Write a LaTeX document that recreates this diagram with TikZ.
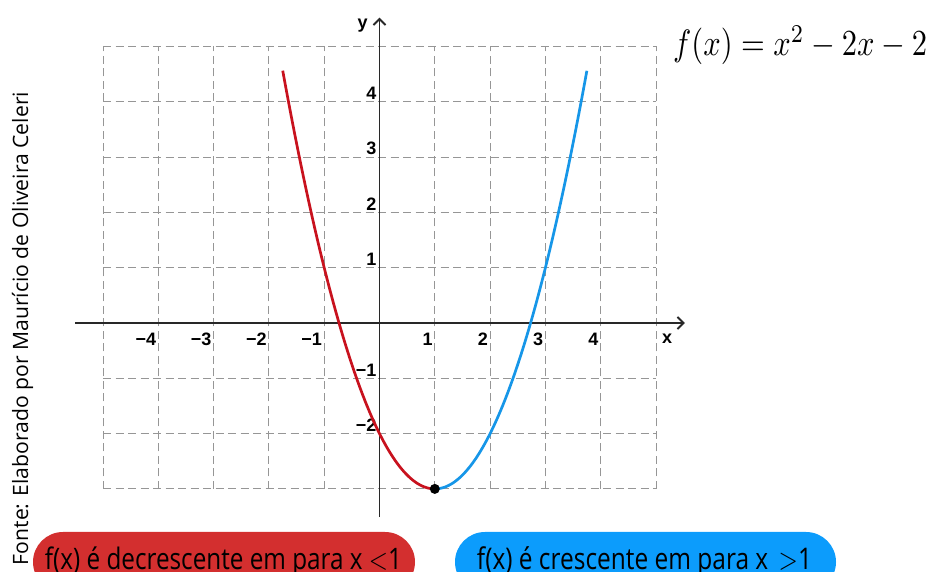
\documentclass[tikz,border=0pt]{standalone}
\usepackage{fontspec}
\usepackage{graphicx}
\usetikzlibrary{arrows.meta}
\newfontfamily\osans{Open Sans}
\newfontfamily\lsans{Liberation Sans}[BoldFont={Liberation Sans Bold}]
\definecolor{curvered}{RGB}{200,18,30}
\definecolor{curveblue}{RGB}{22,150,232}
\definecolor{pillred}{RGB}{211,47,47}
\definecolor{pillblue}{RGB}{12,156,252}
\definecolor{axisgray}{RGB}{40,40,40}
\definecolor{gridgray}{RGB}{150,150,150}
\begin{document}
\begin{tikzpicture}[x=1pt,y=1pt,
  gridln/.style={draw=gridgray, line width=0.9pt, dash pattern=on 8pt off 4.5pt},
  axisln/.style={draw=axisgray, line width=1.8pt},
  ticklbl/.style={font=\lsans\bfseries\fontsize{18}{18}\selectfont, text=black, inner sep=0pt},
  curvestyle/.style={line width=2.7pt},
  pilltext/.style={anchor=base, inner sep=0pt, text=black}]
\useasboundingbox (0,0) rectangle (933,572);
\clip (0,0) rectangle (933,572);

% graph
\begin{scope}[shift={(379.5pt,249pt)}, x=55.3pt, y=55.3pt]
  \draw[gridln, step=1] (-5,-3) grid (5,5);
  \coordinate (xs) at (-5.5,0);
  \coordinate (xe) at (5.52,0);
  \coordinate (ys) at (0,-3.51);
  \coordinate (ye) at (0,5.52);
  \draw[axisln, -{Straight Barb[length=6pt,width=12pt]}] (xs) -- (xe);
  \draw[axisln, -{Straight Barb[length=6pt,width=12pt]}] (ys) -- (ye);
  \foreach \i/\t in {-4/−4,-3/−3,-2/−2,-1/−1,1/1,2/2,3/3,4/4}
    \node[ticklbl, anchor=east] (tx\i) at ([xshift=-2pt,yshift=-16pt]\i,0) {\t};
  \foreach \j/\t in {4/4,3/3,2/2,1/1,-1/−1,-2/−2}
    \node[ticklbl, anchor=south east] (ty\j) at ([xshift=-3pt,yshift=2pt]0,\j) {\t};
  \node[ticklbl] (xl) at ([yshift=-16pt]5.2,0) {x};
  \node[ticklbl] (yl) at ([xshift=-17pt]0,5.37) {y};
  \draw[curvestyle, curvered] plot[domain=-1.75:1, samples=80, smooth] (\x,{\x*\x-2*\x-2});
  \draw[curvestyle, curveblue] plot[domain=1:3.75, samples=80, smooth] (\x,{\x*\x-2*\x-2});
  \node[circle, fill=black, minimum size=10pt, inner sep=0pt] (vtx) at (1,-3) {};
\end{scope}

% formula
\node[anchor=west, inner sep=0pt] (fx) at (673,527)
  {\scalebox{1}[1.2]{\resizebox{254pt}{!}{$f(x)=x^2-2x-2$}}};

% source text
\node[rotate=90, anchor=base, inner sep=0pt] (src) at (28,243.5)
  {\resizebox{473pt}{!}{\osans\fontsize{22}{22}\selectfont Fonte: Elaborado por Maurício de Oliveira Celeri}};

% pills
\path[fill=pillred, rounded corners=30pt] (33,40) rectangle (415,-20);
\path[fill=pillblue, rounded corners=30pt] (455,40) rectangle (836,-20);
\node[pilltext] (tred) at (223.5,2)
  {\scalebox{1}[1.22]{\resizebox{357pt}{!}{\osans\fontsize{24}{24}\selectfont f(x) é decrescente em para x {\fontsize{30}{30}\selectfont$<$}1}}};
\node[pilltext] (tblue) at (644.5,2)
  {\scalebox{1}[1.22]{\resizebox{335pt}{!}{\osans\fontsize{24}{24}\selectfont f(x) é crescente em para x \,{\fontsize{30}{30}\selectfont$>$}1}}};
\end{tikzpicture}
\end{document}
